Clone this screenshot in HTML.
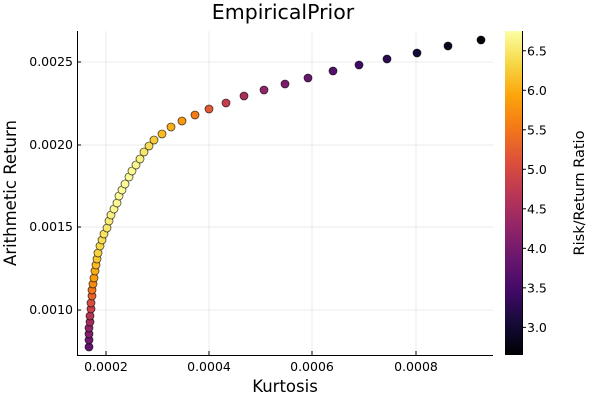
<!DOCTYPE html>
<html><head><meta charset="utf-8"><style>body{margin:0;background:#fff}svg{display:block}text{font-family:"DejaVu Sans","Liberation Sans",sans-serif;fill:#000}</style></head>
<body>
<svg id="s" width="600" height="400" xmlns="http://www.w3.org/2000/svg">
<defs><linearGradient id="g" x1="0" y1="1" x2="0" y2="0">
<stop offset="0" stop-color="#000004"/><stop offset="0.1" stop-color="#160b39"/><stop offset="0.2" stop-color="#420a68"/><stop offset="0.3" stop-color="#6a176e"/><stop offset="0.4" stop-color="#932667"/><stop offset="0.5" stop-color="#bc3754"/><stop offset="0.6" stop-color="#dd513a"/><stop offset="0.7" stop-color="#f37819"/><stop offset="0.8" stop-color="#fca50a"/><stop offset="0.9" stop-color="#f6d746"/><stop offset="1" stop-color="#fcffa4"/></linearGradient></defs>
<text x="283" y="19" font-size="20.5" text-anchor="middle">EmpiricalPrior</text>
<g stroke="#000" stroke-opacity="0.08" stroke-width="1">
<line x1="106" y1="31" x2="106" y2="355"/><line x1="209" y1="31" x2="209" y2="355"/><line x1="312" y1="31" x2="312" y2="355"/><line x1="416" y1="31" x2="416" y2="355"/>
<line x1="77" y1="62" x2="493" y2="62"/><line x1="77" y1="145" x2="493" y2="145"/><line x1="77" y1="227" x2="493" y2="227"/><line x1="77" y1="310" x2="493" y2="310"/>
</g>
<g stroke="#000" stroke-width="1">
<line x1="77.5" y1="31" x2="77.5" y2="355"/><line x1="77" y1="355.5" x2="493" y2="355.5"/>
<line x1="106" y1="355" x2="106" y2="351"/><line x1="209" y1="355" x2="209" y2="351"/><line x1="312" y1="355" x2="312" y2="351"/><line x1="416" y1="355" x2="416" y2="351"/>
<line x1="77" y1="62" x2="81" y2="62"/><line x1="77" y1="145" x2="81" y2="145"/><line x1="77" y1="227" x2="81" y2="227"/><line x1="77" y1="310" x2="81" y2="310"/>
</g>
<g font-size="12.5" text-anchor="middle">
<text x="106" y="371">0.0002</text><text x="209" y="371">0.0004</text><text x="312" y="371">0.0006</text><text x="416" y="371">0.0008</text></g>
<g font-size="12.5" text-anchor="end">
<text x="73" y="66">0.0025</text><text x="73" y="149">0.0020</text><text x="73" y="231">0.0015</text><text x="73" y="314">0.0010</text></g>
<text x="285" y="392" font-size="16.5" text-anchor="middle">Kurtosis</text>
<text transform="translate(16,193) rotate(-90)" font-size="16.5" text-anchor="middle">Arithmetic Return</text>
<rect x="505" y="31" width="17" height="324" fill="url(#g)"/>
<line x1="522.5" y1="31" x2="522.5" y2="355" stroke="#000"/>
<g id="cb" font-size="12.5"></g>
<text transform="translate(584,193) rotate(-90)" font-size="14.5" text-anchor="middle">Risk/Return Ratio</text>
<g id="pts" stroke="#000" stroke-width="0.8" stroke-opacity="0.7"></g>
</svg>
<script>
var cb=document.getElementById('cb'),ns="http://www.w3.org/2000/svg";
[6.5,6.0,5.5,5.0,4.5,4.0,3.5,3.0].forEach(function(v){var y=355-(v-2.65)/4.1*324;
var l=document.createElementNS(ns,'line');l.setAttribute('x1',522);l.setAttribute('x2',526);l.setAttribute('y1',y);l.setAttribute('y2',y);l.setAttribute('stroke','#000');cb.appendChild(l);
var t=document.createElementNS(ns,'text');t.setAttribute('x',527);t.setAttribute('y',y+4.5);t.textContent=v.toFixed(1);cb.appendChild(t);});
var st=[[0,0,0,4],[.1,22,11,57],[.2,66,10,104],[.3,106,23,110],[.4,147,38,103],[.5,188,55,84],[.6,221,81,58],[.7,243,120,25],[.8,252,165,10],[.9,246,215,70],[1,252,255,164]];
function col(v){var t=Math.max(0,Math.min(1,(v-2.65)/4.1));for(var i=1;i<st.length;i++)if(t<=st[i][0]){var a=st[i-1],b=st[i],f=(t-a[0])/(b[0]-a[0]);return 'rgb('+[1,2,3].map(function(k){return Math.round(a[k]+(b[k]-a[k])*f)}).join(',')+')';}}
var P=[[89,347],[89,340],[89,334],[89,328],[90,322],[90,316],[91,309],[91,303],[92,296],[92,290],[93,284],[94,278],[95,271],[96,265],[97,259],[98,253],[100,246],[102,240],[104,234],[107,228],[109,221],[111,215],[114,209],[117,203],[119,196],[122,190],[125,184],[129,177],[132,171],[136,165],[140,159],[144,152],[149,146],[154,140],[162,134],[171,127],[182,121],[195,115],[209,109],[226,103],[244,96],[264,90],[285,84],[308,78],[333,71],[359,65],[387,59],[417,53],[448,46],[481,40]];
var V=[3.8,3.95,4.1,4.25,4.45,4.65,4.85,5.05,5.3,5.5,5.7,5.85,6.0,6.1,6.2,6.3,6.35,6.4,6.45,6.5,6.55,6.6,6.65,6.68,6.7,6.7,6.7,6.7,6.68,6.65,6.6,6.5,6.4,6.25,6.1,6.0,5.8,5.55,5.2,4.8,4.5,4.25,4.05,3.85,3.65,3.45,3.25,3.05,2.85,2.7];
var g=document.getElementById('pts');P.forEach(function(p,i){var c=document.createElementNS(ns,'circle');c.setAttribute('cx',p[0]);c.setAttribute('cy',p[1]);c.setAttribute('r',4);c.setAttribute('fill',col(V[i]));g.appendChild(c);});
</script>
</body></html>
